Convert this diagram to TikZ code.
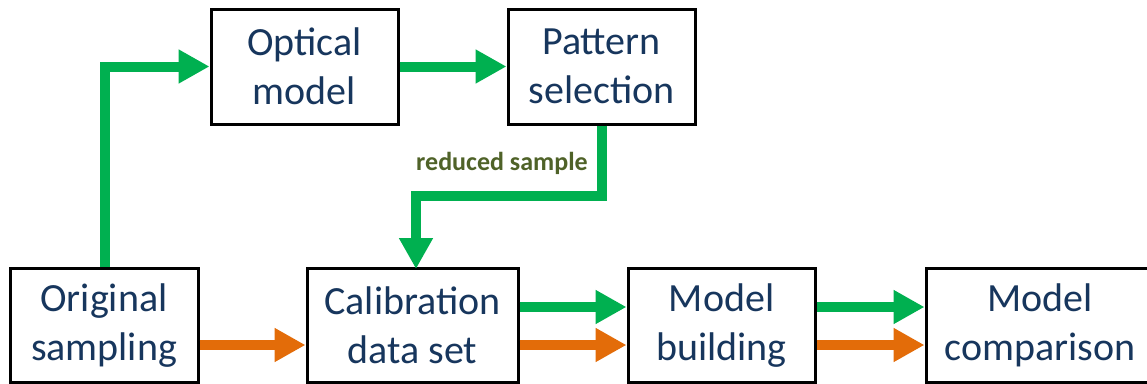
\documentclass[tikz,border=0pt]{standalone}
\usepackage{fontspec}
\setmainfont{Carlito}
\usetikzlibrary{arrows.meta}
\definecolor{txtblue}{HTML}{17365D}
\definecolor{arrgreen}{HTML}{00B050}
\definecolor{arrorange}{HTML}{E36C09}
\definecolor{lblgreen}{HTML}{4F6228}
\tikzset{
  box/.style={draw=black, line width=3pt, rectangle, inner sep=0pt, align=center,
    text=txtblue, font=\fontsize{40}{49}\selectfont, minimum height=114pt},
  garrow/.style={draw=arrgreen, line width=10pt, -{Triangle[length=31pt,width=32pt]}},
  oarrow/.style={draw=arrorange, line width=10pt, -{Triangle[length=31pt,width=32pt]}},
  lbl/.style={text=lblgreen, font=\fontsize{26}{30}\selectfont\bfseries, inner sep=0pt}
}
\begin{document}
\begin{tikzpicture}[x=1pt,y=-1pt]
\useasboundingbox (0,0) rectangle (1147,383);
\clip (0,0) rectangle (1147,383);
\fill[white] (0,0) rectangle (1147,383);
\node[box, minimum width=188pt] (orig) at (104,325.5) {Original\\sampling};
\node[box, minimum width=187pt, minimum height=115pt] (opt) at (304.5,66.5) {Optical\\model};
\node[box, minimum width=187pt, minimum height=115pt] (pat) at (601.5,66.5) {Pattern\\selection};
\node[box, minimum width=211pt] (cal) at (412.5,325.5) {Calibration\\data set};
\node[box, minimum width=187pt] (bld) at (721.5,325.5) {Model\\building};
\node[box, minimum width=228pt] (cmp) at (1040,325.5) {Model\\comparison};
\coordinate (mid) at (0,196);
\coordinate (gy) at (0,307);
\coordinate (oy) at (0,345);
\coordinate (calin) at (416,269);
\draw[garrow] ([xshift=1pt]orig.north) |- (opt.west);
\draw[garrow] (opt.east) -- (pat.west);
\draw[garrow] (pat.south) -- (pat.south |- mid) -| (calin);
\node[lbl] (red) at (502,163) {reduced sample};
\draw[oarrow] (orig.east |- oy) -- (cal.west |- oy);
\draw[garrow] (cal.east |- gy) -- (bld.west |- gy);
\draw[oarrow] (cal.east |- oy) -- (bld.west |- oy);
\draw[garrow] (bld.east |- gy) -- (cmp.west |- gy);
\draw[oarrow] (bld.east |- oy) -- (cmp.west |- oy);
\end{tikzpicture}
\end{document}
